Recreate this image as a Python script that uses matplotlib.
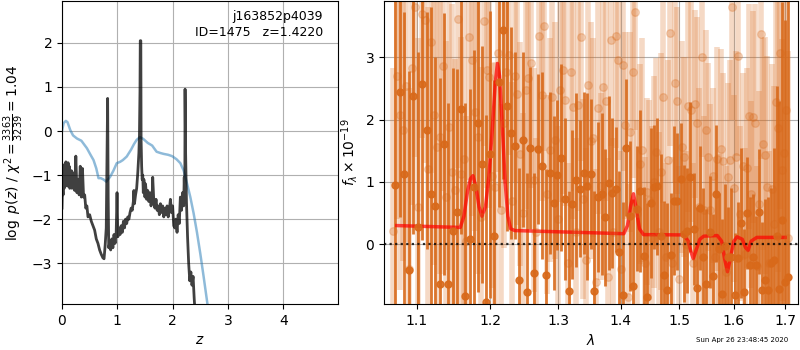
import numpy as np
import matplotlib
matplotlib.use('Agg')
import matplotlib.pyplot as plt
from matplotlib.ticker import FixedLocator, FixedFormatter, NullLocator

# --- p(z) panel ---
z_pz = [0.00, 0.01, 0.02, 0.03, 0.04, 0.05, 0.06, 0.07, 0.08, 0.09, 0.10, 0.11, 0.12, 0.13,
        0.14, 0.16, 0.17, 0.18, 0.20, 0.21, 0.23, 0.25, 0.27, 0.29, 0.31, 0.33, 0.35, 0.37,
        0.39, 0.41, 0.43, 0.45, 0.47, 0.50, 0.53, 0.56, 0.59, 0.62, 0.65, 0.68, 0.71, 0.74,
        0.76, 0.78, 0.80, 0.81, 0.825, 0.835, 0.845, 0.86, 0.88, 0.90, 0.92, 0.94, 0.96, 0.98,
        0.995, 1.01, 1.03, 1.05, 1.07, 1.09, 1.11, 1.13, 1.15, 1.17, 1.19, 1.21, 1.23, 1.25,
        1.27, 1.29, 1.30, 1.31, 1.33, 1.35, 1.37, 1.39, 1.40, 1.41, 1.415, 1.425, 1.43, 1.44,
        1.45, 1.46, 1.47, 1.48, 1.49, 1.50, 1.51, 1.52, 1.53, 1.55, 1.57, 1.59, 1.61, 1.63,
        1.64, 1.66, 1.68, 1.70, 1.72, 1.74, 1.76, 1.78, 1.80, 1.82, 1.84, 1.86, 1.88, 1.90,
        1.92, 1.94, 1.96, 1.98, 2.00, 2.02, 2.04, 2.06, 2.08, 2.10, 2.12, 2.14, 2.16, 2.18,
        2.20, 2.21, 2.22, 2.225, 2.235, 2.25, 2.27, 2.29, 2.31, 2.33, 2.35, 2.37, 2.39, 2.41]
logpz = [-1.75, -1.2, -1.45, -0.9, -1.3, -0.75, -1.25, -0.7, -1.2, -0.95, -1.25, -0.72, -1.1, -0.8,
         -1.3, -1.25, -0.9, -1.3, -1.2, -0.95, -1.35, -0.57, -1.4, -1.1, -1.45, -0.8, -1.5, -0.85,
         -1.5, -1.45, -1.75, -1.7, -1.95, -1.9, -2.05, -2.15, -2.25, -2.45, -2.55, -2.7, -2.8, -2.88,
         -2.9, -2.6, -2.2, -1.0, 0.74, -1.5, -2.65, -2.55, -2.7, -2.45, -2.65, -2.35, -2.55, -2.3,
         -1.4, -2.4, -2.2, -2.35, -2.15, -2.3, -2.05, -2.2, -2.0, -2.1, -1.95, -2.0, -1.85, -1.75,
         -1.8, -1.6, -1.35, -1.65, -1.45, -1.3, -0.95, -0.5, -0.1, 0.9, 2.05, 2.05, -0.2, -0.8,
         -1.1, -1.0, -1.4, -1.1, -1.25, -1.5, -1.2, -1.35, -1.55, -1.35, -1.6, -1.4, -1.7, -1.5,
         -1.05, -1.6, -1.75, -1.55, -1.8, -1.7, -1.9, -1.65, -1.85, -1.7, -1.95, -1.75, -1.9, -1.7,
         -1.95, -1.8, -1.55, -1.85, -1.7, -2.15, -2.2, -2.0, -2.3, -1.9, -2.1, -1.5, -1.8, -1.4,
         -1.7, -1.05, -1.6, 0.95, -0.5, -1.6, -2.4, -3.0, -3.4, -3.2, -3.5, -3.3, -3.8, -4.2]

z_prior = [0.0, 0.03, 0.07, 0.1, 0.15, 0.2, 0.27, 0.35, 0.45, 0.52, 0.57, 0.62, 0.66, 0.7,
           0.75, 0.8, 0.87, 0.93, 0.99, 1.05, 1.1, 1.17, 1.25, 1.3, 1.35, 1.41, 1.47, 1.55,
           1.63, 1.71, 1.78, 1.84, 1.92, 1.99, 2.07, 2.14, 2.2, 2.26, 2.32, 2.38, 2.44, 2.5,
           2.56, 2.62, 2.66]
log_prior = [0.0, 0.18, 0.23, 0.2, 0.02, -0.1, -0.17, -0.22, -0.39, -0.55, -0.66, -0.85, -1.07, -1.07,
             -1.1, -1.15, -1.04, -0.9, -0.73, -0.7, -0.66, -0.58, -0.42, -0.3, -0.2, -0.14, -0.18, -0.27,
             -0.33, -0.47, -0.5, -0.52, -0.54, -0.57, -0.64, -0.73, -0.9, -1.19, -1.5, -1.87, -2.3, -2.78,
             -3.3, -3.84, -4.2]

# --- spectrum panel ---
flux_main = [0.95, 2.44, 1.12, -0.42, 2.37, 0.28, 2.57, 1.83, 0.81, 0.61,
             -0.63, 1.61, -0.63, 0.22, 0.51, 2.17, -0.83, 0.09, 0.92, 1.94,
             1.28, -0.93, 1.44, 0.14, 2.6, 3.44, 2.21, 1.79, 1.58, -0.57,
             1.68, -0.76, 1.55, -0.46, 1.53, 1.26, -0.5, 1.14, 0.66, 1.11,
             1.39, 0.72, -0.75, 0.64, 1.03, 0.89, 1.14, 0.93, 1.13, -0.75,
             0.76, 0.8, 0.43, 0.98, 0.82, 0.88, -0.12, -0.82, 1.55, 0.45,
             -0.67, 0.57, 0.86, -0.18, -0.84, 0.66, 0.92, 0.93, 0.14, -0.5,
             -0.74, -0.17, 0.7, 0.69, 1.05, 0.17, 0.22, 1.08, 0.25, -0.7,
             0.58, -0.2, -0.63, 0.2, -0.51, 0.81, -0.07, -0.79, -0.03, -0.21,
             -0.2, -0.82, -0.22, 0.34, -0.76, 0.5, -0.34, -0.2, -0.34, 0.52,
             -0.74, -0.57, -0.74, -0.3, -0.25, 0.13, -0.71, 0.39, -0.6, -0.52]
err_main = [3.5, 2.0, 2.6, 3.2, 2.2, 2.8, 2.5, 1.9, 3.0, 2.4,
            3.3, 2.1, 2.9, 2.6, 2.3, 2.0, 3.1, 2.4, 2.2, 2.7,
            1.9, 3.0, 2.3, 2.5, 2.0, 2.4, 2.0, 1.7, 1.5, 1.8,
            1.4, 1.9, 1.3, 1.6, 1.2, 1.5, 1.7, 1.3, 1.4, 1.2,
            1.5, 1.3, 1.6, 1.2, 1.4, 1.1, 1.3, 1.5, 1.2, 1.6,
            1.2, 1.3, 1.1, 1.4, 1.2, 1.0, 1.3, 1.5, 1.1, 1.2,
            1.4, 1.0, 1.3, 1.1, 1.5, 1.2, 1.0, 1.1, 1.3, 1.2,
            1.4, 1.0, 1.2, 1.1, 0.9, 1.1, 1.0, 1.2, 0.9, 1.3,
            1.0, 1.1, 1.2, 0.9, 1.0, 1.1, 0.9, 1.2, 1.0, 0.8,
            1.1, 1.0, 0.9, 1.2, 1.0, 0.9, 1.1, 1.0, 0.8, 1.0,
            1.1, 1.3, 1.5, 1.2, 1.8, 2.4, 3.0, 3.5, 4.2, 5.0]

flux_alt = [0.22, 2.7, 2.07, 1.83, 2.53, -0.4, 2.83, 3.8, 0.6, 3.7,
            3.6, 1.2, 3.25, 2.07, 1.56, 1.72, 2.86, 0.76, 1.88, 1.16,
            0.87, 3.62, 1.13, 1.37, 0.06, 3.33, 2.95, 2.12, 1.72, 0.44,
            3.58, 2.8, 2.68, 1.1, 0.92,
            3.06, 0.55, 1.94, 2.76, 3.03, 0.7, 2.7, 2.41, 1.45, 0.5,
            2.47, 2.67, 2.9, 1.03, 0.2, 3.34, 2.39, 3.5, 0.8, 1.51,
            2.36, 1.67, 0.4, 2.48, 2.8, 2.31, -0.3, 2.76, 2.2, 0.2,
            2.23, 3.33, 0.73, -0.25, 2.55, 1.66, 1.71, -0.6, 2.18, 0.93,
            2.52, 2.3, -0.52, 3.27, 0.2, 3.34, 2.95, -0.4, 2.87, 1.91,
            -0.84, 1.8, 2.76, 3.73, 0.5, 1.29, 1.51, -0.3, 0.84, 0.71,
            0.1, 1.0, 1.48, 0.2, 1.16, 2.36, -0.2, 1.35, 3.38, -0.3,
            2.58, 2.3, -0.55, 1.56, 1.4, 0.0, 2.21, 2.15, -0.3, 2.25,
            1.95, 0.6, 3.0, 0.55,
            1.83, 1.4, 0.55, 1.1, -0.2, 1.37, -0.05, 1.53, 1.34, -0.45,
            1.08, 1.35, 3.8, 0.9, 1.4, 3.02, 0.49, 1.25, -0.15, 1.22,
            2.05, 0.8, 2.04, 1.95, -0.35, 0.65, 3.37, 1.61, 1.43, 0.92,
            -0.3, 0.89, 0.33, 2.28, 1.86, 3.07, 1.19, 1.47, 2.15, 0.1]
err_alt = [2.6, 2.3, 2.8, 2.1, 2.5, 2.9, 2.2, 2.4, 2.7, 2.0,
           2.3, 2.6, 2.1, 2.4, 2.8, 2.2, 2.0, 2.5, 2.3, 2.7,
           2.1, 2.4, 2.2, 2.6, 2.0, 2.3, 2.5, 1.9, 2.2, 2.4,
           2.0, 1.9, 2.1, 1.8, 2.0,
           1.9, 1.7, 2.0, 1.8, 1.6, 1.9, 1.7, 2.1, 1.8, 1.6,
           1.9, 1.7, 2.0, 1.8, 1.5, 1.9, 1.7, 2.0, 1.6, 1.8,
           1.7, 1.9, 1.5, 1.8, 2.0, 1.7, 1.6, 1.9, 1.8, 1.5,
           1.7, 2.0, 1.6, 1.8, 1.7, 1.9, 1.6, 1.8, 1.7, 1.5,
           1.8, 1.6, 1.9, 1.7, 1.5, 1.8, 1.6, 1.9, 1.7, 1.5,
           1.8, 1.6, 1.7, 1.9, 1.5, 1.6, 1.8, 1.7, 1.5, 1.6,
           1.8, 1.7, 1.5, 1.6, 1.9, 1.7, 1.5, 1.6, 1.8, 1.7,
           1.6, 1.5, 1.8, 1.7, 1.6, 1.5, 1.7, 1.8, 1.6, 1.5,
           1.7, 1.9, 1.6, 1.5,
           1.6, 1.5, 1.7, 1.4, 1.6, 1.8, 1.5, 1.6, 1.4, 1.7,
           1.5, 1.6, 1.8, 1.5, 1.7, 1.6, 1.4, 1.5, 1.7, 1.6,
           1.8, 1.5, 1.7, 1.9, 1.6, 1.8, 2.0, 1.7, 1.9, 2.1,
           1.8, 2.0, 2.2, 1.9, 2.3, 2.5, 2.1, 2.6, 2.8, 3.0]

wave_model = [1.0743, 1.158, 1.163, 1.168, 1.172, 1.1755, 1.180, 1.184, 1.188, 1.193,
              1.198, 1.203, 1.207, 1.210, 1.213, 1.217, 1.221, 1.225, 1.229, 1.235,
              1.405, 1.411, 1.416, 1.421, 1.426, 1.431, 1.438, 1.508, 1.516, 1.521,
              1.525, 1.530, 1.537, 1.544, 1.569, 1.577, 1.583, 1.588, 1.594, 1.600,
              1.606, 1.616, 1.622, 1.627, 1.633, 1.644, 1.70]
flux_model = [0.30, 0.27, 0.45, 0.85, 1.05, 1.1, 0.9, 0.6, 0.45, 0.6,
              1.1, 1.9, 2.6, 2.9, 2.7, 1.9, 1.0, 0.45, 0.25, 0.22,
              0.17, 0.3, 0.6, 0.81, 0.55, 0.25, 0.155, 0.15, 0.05, -0.12,
              -0.23, -0.1, 0.08, 0.13, 0.14, 0.05, -0.25, -0.44, -0.2, 0.05,
              0.12, 0.08, -0.05, -0.1, 0.05, 0.11, 0.11]

wave_main = np.linspace(1.072, 1.706, len(flux_main))
wave_alt = np.linspace(1.070, 1.705, len(flux_alt))

orange = '#d8691a'

fig = plt.figure(figsize=(8, 3.5), dpi=100)
ax1 = fig.add_axes([0.0775, 0.131, 0.345, 0.866])
ax2 = fig.add_axes([0.48, 0.131, 0.5175, 0.866])

ax1.plot(z_prior, log_prior, color='tab:blue', alpha=0.5, lw=1.8)
ax1.plot(z_pz, logpz, color='k', alpha=0.75, lw=2)
ax1.set_xlim(0, 4.99)
ax1.set_ylim(-3.93, 2.95)
ax1.set_xticks([0, 1, 2, 3, 4])
ax1.set_yticks([-3, -2, -1, 0, 1, 2])
ax1.grid(True)
ax1.set_xlabel(r'$z$')
ax1.set_ylabel(r'$\log\ p(z)$' + ' / ' + r'$\chi^2=\frac{3363}{3239}=1.04$')
ax1.text(0.945, 0.97, 'j163852p4039\nID=1475   z=1.4220', transform=ax1.transAxes,
         ha='right', va='top', fontsize=9, linespacing=1.25)

ax2.errorbar(wave_alt, flux_alt, err_alt, color=orange, alpha=0.25, marker='o',
             ms=5.5, linestyle='none', elinewidth=4, capsize=0)
ax2.errorbar(wave_main, flux_main, err_main, color=orange, alpha=0.9, marker='o',
             ms=5, linestyle='none', elinewidth=2, capsize=0)
ax2.plot(wave_model, flux_model, color='r', alpha=0.7, lw=2.5)
ax2.axhline(0, color='k', linestyle=(0, (1, 1.5)), lw=1.6, alpha=0.8)

ax2.set_xscale('log')
ax2.set_xlim(1.0582, 1.726)
ax2.set_ylim(-0.96, 3.9)
ax2.xaxis.set_major_locator(FixedLocator([1.1, 1.2, 1.3, 1.4, 1.5, 1.6, 1.7]))
ax2.xaxis.set_major_formatter(FixedFormatter(['1.1', '1.2', '1.3', '1.4', '1.5', '1.6', '1.7']))
ax2.xaxis.set_minor_locator(NullLocator())
ax2.set_yticks([0, 1, 2, 3])
ax2.grid(True)
ax2.set_xlabel(r'$\lambda$')
ax2.set_ylabel(r'$f_\lambda \times 10^{-19}$')

fig.text(0.985, 0.022, 'Sun Apr 26 23:48:45 2020', ha='right', fontsize=5)

fig.savefig('out.png', dpi=100)
